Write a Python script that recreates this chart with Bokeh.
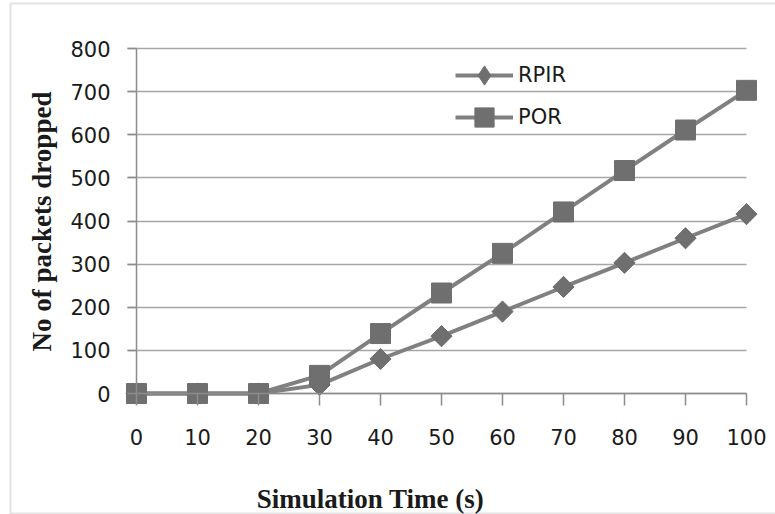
import math
from bokeh.plotting import figure
from bokeh.models import (Range1d, FixedTicker, Legend, LegendItem, Label,
                          BoxAnnotation, ColumnDataSource)
from bokeh.embed import file_html
from bokeh.resources import INLINE

# ---- data ----
time_s = [0, 10, 20, 30, 40, 50, 60, 70, 80, 90, 100]
rpir = [0, 0, 0, 20, 80, 133, 190, 247, 303, 360, 416]
por = [0, 0, 0, 42, 139, 233, 325, 421, 517, 611, 703]
y_ticks = [0, 100, 200, 300, 400, 500, 600, 700, 800]
x_ticks = [0, 10, 20, 30, 40, 50, 60, 70, 80, 90, 100]
series_names = ["RPIR", "POR"]
x_title = "Simulation Time (s)"
y_title = "No of packets dropped"

# ---- layout constants (pixels) ----
W, H = 775, 514
X0PX, X100PX = 136, 746                 # pixel of x=0 and x=100
Y0PX, Y800PX = 393, 48                  # pixel of y=0 and y=800 (from top)
xs = (X100PX - X0PX) / 100.0
ys = (Y0PX - Y800PX) / 800.0
x_start = -X0PX / xs
x_end = 100 + (W - X100PX) / xs
y_start = -(H - Y0PX) / ys
y_end = 800 + Y800PX / ys

LINE = "#808080"
FILL = "#6f6f6f"
GRID = "#a6a6a6"
AX = "#8c8c8c"
TXT = "#1a1a1a"
TICKFONT = "DejaVu Sans"
TICKSIZE = "21px"

p = figure(width=W, height=H, output_backend="svg", toolbar_location=None,
           title=None,
           x_range=Range1d(x_start, x_end), y_range=Range1d(y_start, y_end),
           min_border=0)
p.outline_line_color = None
p.background_fill_color = "white"
p.border_fill_color = "white"

# axes
xa = p.xaxis[0]
xa.ticker = FixedTicker(ticks=x_ticks)
xa.bounds = (0, 100)
xa.fixed_location = 0
xa.axis_line_color = AX
xa.axis_line_width = 1.5
xa.major_tick_line_color = AX
xa.major_tick_line_width = 1.5
xa.major_tick_out = 12
xa.major_tick_in = 0
xa.minor_tick_line_color = None
xa.major_label_standoff = 23
xa.major_label_text_font = TICKFONT
xa.major_label_text_font_size = TICKSIZE
xa.major_label_text_color = TXT

ya = p.yaxis[0]
ya.ticker = FixedTicker(ticks=y_ticks)
ya.bounds = (0, 800)
ya.fixed_location = 0
ya.axis_line_color = AX
ya.axis_line_width = 1.5
ya.major_tick_line_color = AX
ya.major_tick_line_width = 1.5
ya.major_tick_out = 9
ya.major_tick_in = 0
ya.minor_tick_line_color = None
ya.major_label_standoff = 17
ya.major_label_text_font = TICKFONT
ya.major_label_text_font_size = TICKSIZE
ya.major_label_text_color = TXT

p.xgrid.visible = False
p.ygrid.ticker = FixedTicker(ticks=y_ticks)
p.ygrid.grid_line_color = GRID
p.ygrid.grid_line_width = 1.5
p.ygrid.cross_bounds = (-9 / xs, 100)

# outer chart border
p.add_layout(BoxAnnotation(left=10, right=W + 20, bottom=H - 513, top=H - 3,
                           left_units="screen", right_units="screen",
                           bottom_units="screen", top_units="screen",
                           fill_alpha=0, line_color="#a0a0a0", line_width=2,
                           level="underlay"))

src = ColumnDataSource(dict(t=time_s, rpir=rpir, por=por))

l1 = p.line("t", "rpir", source=src, line_color=LINE, line_width=4)
m1 = p.scatter("t", "rpir", source=src, marker="square", angle=math.pi / 4,
               size=15, fill_color=FILL, line_color=FILL)
m1b = p.scatter("t", "rpir", source=src, marker="diamond", size=20,
                fill_color=FILL, line_color=FILL)
l2 = p.line("t", "por", source=src, line_color=LINE, line_width=4)
m2 = p.scatter("t", "por", source=src, marker="square", size=20,
               fill_color=FILL, line_color=FILL)

common = dict(glyph_width=58, glyph_height=48, label_height=20,
              label_standoff=5, spacing=0, padding=0, margin=0,
              border_line_alpha=0, background_fill_alpha=0,
              label_text_font=TICKFONT, label_text_font_size=TICKSIZE,
              label_text_color=TXT)
lg1 = Legend(items=[LegendItem(label=series_names[0], renderers=[l1, m1b])],
             location=(455, H - 99), **common)
lg2 = Legend(items=[LegendItem(label=series_names[1], renderers=[l2, m2])],
             location=(455, H - 141), **common)
p.add_layout(lg1)
p.add_layout(lg2)

p.add_layout(Label(x=370, y=H - 498, x_units="screen", y_units="screen",
                   text=x_title, text_align="center", text_baseline="alphabetic",
                   text_font="Liberation Serif", text_font_style="bold",
                   text_font_size="27px", text_color=TXT))
p.add_layout(Label(x=41, y=H - 221, x_units="screen", y_units="screen",
                   text=y_title, angle=math.pi / 2, text_align="center",
                   text_baseline="alphabetic",
                   text_font="Liberation Serif", text_font_style="bold",
                   text_font_size="27px", text_color=TXT))

open("out.html", "w").write(file_html(p, INLINE))
